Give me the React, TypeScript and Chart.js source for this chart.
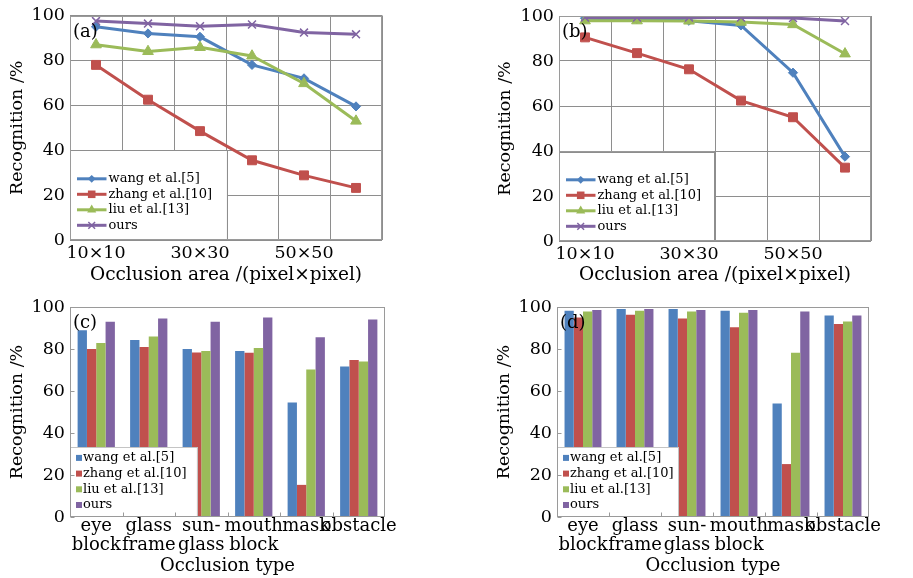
import React, { useEffect, useRef } from "react";
import { Chart, registerables } from "chart.js";
Chart.register(...registerables);

const FONT = "'DejaVu Serif', 'Liberation Serif', serif";

const seriesNames = ["wang et al.[5]", "zhang et al.[10]", "liu et al.[13]", "ours"];
const seriesColors = ["#4F81BD", "#C0504D", "#9BBB59", "#8064A2"];
const pointStyles = ["rectRot", "rect", "triangle", "crossRot"];
const pointRadii = [4.6, 6.3, 6.2, 5.6];

const areaCategories = ["10×10", "20×20", "30×30", "40×40", "50×50", "60×60"];
const areaTickLabels = ["10×10", "", "30×30", "", "50×50", ""];
const typeCategories = [["eye", "block"], ["glass", "frame"], ["sun-", "glass"], ["mouth", "block"], "mask", "obstacle"];
const yTickValues = [0, 20, 40, 60, 80, 100];

// (a)
const wangA = [95, 92, 90.5, 78, 72, 59.5];
const zhangA = [78, 62.5, 48.5, 35.5, 28.8, 23.2];
const liuA = [87, 84, 85.8, 82, 69.7, 53];
const oursA = [97.5, 96.4, 95.2, 96, 92.4, 91.6];
// (b)
const wangB = [99, 98.7, 97.9, 95.8, 74.8, 37.5];
const zhangB = [90.5, 83.5, 76.3, 62.4, 55, 32.6];
const liuB = [97.9, 97.9, 97.8, 97.3, 96.2, 83.2];
const oursB = [99.3, 99.3, 99.3, 99.3, 99.1, 97.8];
// (c)
const wangC = [88.9, 84.3, 80, 79.1, 54.5, 71.7];
const zhangC = [80, 81, 78.3, 78.2, 15.3, 74.8];
const liuC = [82.8, 86, 79, 80.5, 70.2, 74];
const oursC = [93, 94.5, 93, 95, 85.6, 94];
// (d)
const wangD = [98.2, 99, 99, 98.2, 54, 96];
const zhangD = [95, 96.3, 94.5, 90.3, 25.2, 91.9];
const liuD = [97.8, 98.2, 97.8, 97.3, 78.2, 93.1];
const oursD = [98.6, 99, 98.6, 98.6, 97.8, 96];

const GRID = "#8e8e8e";
const FRAME = "#9a9a9a";

type Spec = {
  kind: "line" | "bar";
  letter: string;
  left: number; top: number; w: number; h: number;
  pad: { left: number; top: number; right: number; bottom: number };
  xAxisH: number;
  yTitlePad: number;
  xTitleSize: number;
  xTitlePad: number;
  xTitle: string;
  legendW: number; legendH: number;
  series: number[][];
};

const specs: Spec[] = [
  { kind: "line", letter: "(a)", left: 0, top: 0, w: 455, h: 290,
    pad: { left: 0, top: 13, right: 73, bottom: 0 }, xAxisH: 50, yTitlePad: 6.5,
    xTitleSize: 18.5, xTitlePad: 4, xTitle: "Occlusion area /(pixel×pixel)",
    legendW: 0.503, legendH: 0.4, series: [wangA, zhangA, liuA, oursA] },
  { kind: "line", letter: "(b)", left: 455, top: 0, w: 458, h: 290,
    pad: { left: 34, top: 16, right: 42, bottom: 0 }, xAxisH: 49, yTitlePad: 5.5,
    xTitleSize: 18.5, xTitlePad: 4, xTitle: "Occlusion area /(pixel×pixel)",
    legendW: 0.497, legendH: 0.396, series: [wangB, zhangB, liuB, oursB] },
  { kind: "bar", letter: "(c)", left: 0, top: 290, w: 455, h: 288,
    pad: { left: 0, top: 17, right: 70, bottom: 0 }, xAxisH: 61, yTitlePad: 6.5,
    xTitleSize: 18, xTitlePad: 0.5, xTitle: "Occlusion type",
    legendW: 0.403, legendH: 0.333, series: [wangC, zhangC, liuC, oursC] },
  { kind: "bar", letter: "(d)", left: 455, top: 290, w: 458, h: 288,
    pad: { left: 32, top: 17, right: 44, bottom: 0 }, xAxisH: 61, yTitlePad: 6.5,
    xTitleSize: 18, xTitlePad: 0.5, xTitle: "Occlusion type",
    legendW: 0.388, legendH: 0.333, series: [wangD, zhangD, liuD, oursD] },
];

function drawMarker(ctx: CanvasRenderingContext2D, style: string, x: number, y: number, r: number, color: string) {
  ctx.save();
  ctx.fillStyle = color;
  ctx.strokeStyle = color;
  ctx.lineWidth = 1.5;
  ctx.beginPath();
  if (style === "rectRot") {
    ctx.moveTo(x, y - r); ctx.lineTo(x + r, y); ctx.lineTo(x, y + r); ctx.lineTo(x - r, y); ctx.closePath(); ctx.fill();
  } else if (style === "rect") {
    const s = r * Math.SQRT1_2;
    ctx.rect(x - s, y - s, 2 * s, 2 * s); ctx.fill();
  } else if (style === "triangle") {
    ctx.moveTo(x, y - r); ctx.lineTo(x + r * 0.866, y + r * 0.5); ctx.lineTo(x - r * 0.866, y + r * 0.5); ctx.closePath(); ctx.fill();
  } else {
    const s = r * Math.SQRT1_2;
    ctx.moveTo(x - s, y - s); ctx.lineTo(x + s, y + s); ctx.moveTo(x + s, y - s); ctx.lineTo(x - s, y + s); ctx.stroke();
  }
  ctx.restore();
}

function makeDecor(spec: Spec) {
  return {
    id: "decor",
    afterDatasetsDraw(chart: any) {
      const { ctx, chartArea: a } = chart;
      const W = a.right - a.left, H = a.bottom - a.top;
      const bx = a.left, by = a.bottom - spec.legendH * H, bw = spec.legendW * W, bh = a.bottom - by;
      ctx.save();
      ctx.fillStyle = "#fff";
      ctx.fillRect(bx, by, bw, bh);
      ctx.strokeStyle = spec.kind === "line" ? GRID : "#c4c4c4";
      ctx.lineWidth = 1;
      ctx.strokeRect(Math.round(bx) + 0.5, Math.round(by) + 0.5, Math.round(bw), Math.round(bh) - 1);
      ctx.font = `13px ${FONT}`;
      ctx.textBaseline = "middle";
      ctx.textAlign = "left";
      for (let i = 0; i < 4; i++) {
        const color = seriesColors[i];
        if (spec.kind === "line") {
          const y = a.bottom - 14.7 - (3 - i) * 15.5;
          ctx.strokeStyle = color;
          ctx.lineWidth = 3;
          ctx.beginPath();
          ctx.moveTo(bx + 7, y);
          ctx.lineTo(bx + 36.5, y);
          ctx.stroke();
          drawMarker(ctx, pointStyles[i], bx + 21.7, y, pointRadii[i] * 0.85, color);
          ctx.fillStyle = "#000";
          ctx.fillText(seriesNames[i], bx + 38.5, y);
        } else {
          const y = a.bottom - 12 - (3 - i) * 15.7;
          ctx.fillStyle = color;
          ctx.fillRect(bx + 6, y - 3, 6, 6);
          ctx.fillStyle = "#000";
          ctx.fillText(seriesNames[i], bx + 13, y);
        }
      }
      ctx.font = `18px ${FONT}`;
      ctx.fillStyle = "#000";
      ctx.fillText(spec.letter, a.left + 3, a.top + 16.5);
      ctx.restore();
    },
    afterDraw(chart: any) {
      const { ctx, chartArea: a } = chart;
      ctx.save();
      ctx.strokeStyle = FRAME;
      ctx.lineWidth = 1;
      const l = Math.round(a.left) + 0.5, t = Math.round(a.top) + 0.5;
      const r = Math.round(a.right) - 0.5, b = Math.round(a.bottom) - 0.5;
      ctx.strokeRect(l, t, r - l, b - t);
      if (spec.kind === "bar") {
        const ys = chart.scales.y;
        ctx.beginPath();
        yTickValues.forEach((v) => {
          const py = Math.round(ys.getPixelForValue(v)) + 0.5;
          ctx.moveTo(l, py); ctx.lineTo(l + 4, py);
        });
        const xs = chart.scales.x;
        for (let i = 1; i < typeCategories.length; i++) {
          const px = Math.round((xs.getPixelForValue(i - 1) + xs.getPixelForValue(i)) / 2) + 0.5;
          ctx.moveTo(px, b); ctx.lineTo(px, b - 4);
        }
        ctx.stroke();
      }
      ctx.restore();
    },
  };
}

function Panel({ spec }: { spec: Spec }) {
  const ref = useRef<HTMLCanvasElement | null>(null);
  useEffect(() => {
    if (!ref.current) return;
    const isLine = spec.kind === "line";
    const datasets = spec.series.map((vals, i) =>
      isLine
        ? {
            label: seriesNames[i], data: vals, borderColor: seriesColors[i], backgroundColor: seriesColors[i],
            borderWidth: 3, pointStyle: pointStyles[i], pointRadius: pointRadii[i],
            pointBorderWidth: i === 3 ? 1.5 : 1, pointBorderColor: seriesColors[i], pointBackgroundColor: seriesColors[i],
            tension: 0, order: 4 - i,
          }
        : {
            label: seriesNames[i], data: vals, backgroundColor: seriesColors[i], borderWidth: 0,
            categoryPercentage: 0.71, barPercentage: 1.0,
          }
    );
    const tickFont = { family: FONT, size: 17.5 };
    const chart = new Chart(ref.current, {
      type: isLine ? "line" : "bar",
      data: { labels: isLine ? areaCategories : (typeCategories as any), datasets: datasets as any },
      options: {
        animation: false,
        responsive: false,
        maintainAspectRatio: false,
        layout: { padding: spec.pad },
        plugins: { legend: { display: false }, tooltip: { enabled: false } },
        scales: {
          x: {
            offset: true,
            grid: { display: isLine, offset: true, color: GRID, drawTicks: false, lineWidth: 1 },
            border: { display: false },
            ticks: isLine
              ? { autoSkip: false, maxRotation: 0, minRotation: 0, padding: 2.5, color: "#000", font: tickFont,
                  callback: (_v: any, i: number) => areaTickLabels[i] }
              : { autoSkip: false, maxRotation: 0, minRotation: 0, padding: 0, color: "#000",
                  font: { family: FONT, size: 18, lineHeight: 1.05 } },
            title: { display: true, text: spec.xTitle, color: "#000",
              font: { family: FONT, size: spec.xTitleSize }, padding: { top: 0, bottom: spec.xTitlePad } },
            afterFit: (s: any) => { s.height = spec.xAxisH; },
          },
          y: {
            min: 0, max: 100,
            afterBuildTicks: (s: any) => { s.ticks = yTickValues.map((v) => ({ value: v })); },
            grid: { display: isLine, color: GRID, drawTicks: false, lineWidth: 1 },
            border: { display: false },
            ticks: { padding: 5, color: "#000", font: tickFont },
            title: { display: true, text: "Recognition /%", color: "#000",
              font: { family: FONT, size: 17.5 }, padding: { top: spec.yTitlePad, bottom: 0 } },
            afterFit: (s: any) => { s.width = 70; },
          },
        },
      } as any,
      plugins: [makeDecor(spec) as any],
    });
    return () => chart.destroy();
  }, [spec]);
  return (
    <div style={{ position: "absolute", left: spec.left, top: spec.top, width: spec.w, height: spec.h }}>
      <canvas ref={ref} width={spec.w} height={spec.h} style={{ width: spec.w, height: spec.h, display: "block" }} />
    </div>
  );
}

export default function App() {
  return (
    <div style={{ position: "fixed", left: 0, top: 0, width: 913, height: 578, background: "#fff", overflow: "hidden" }}>
      {specs.map((s) => (
        <Panel key={s.letter} spec={s} />
      ))}
    </div>
  );
}
